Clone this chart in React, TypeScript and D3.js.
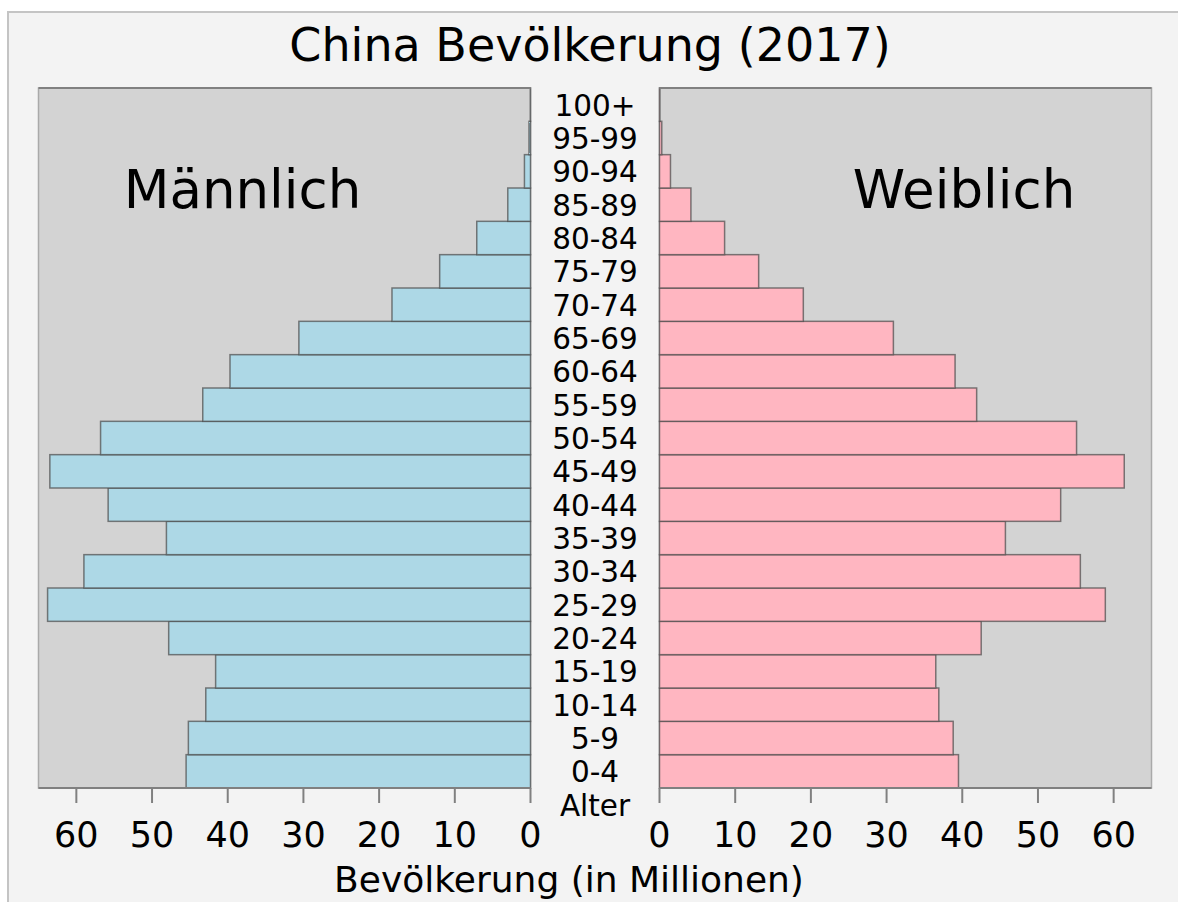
import React from "react";
import * as d3 from "d3";

const ageGroups = [
  "0-4", "5-9", "10-14", "15-19", "20-24", "25-29", "30-34", "35-39", "40-44", "45-49",
  "50-54", "55-59", "60-64", "65-69", "70-74", "75-79", "80-84", "85-89", "90-94", "95-99", "100+",
];
const male = [
  45.5, 45.2, 42.9, 41.6, 47.8, 63.8, 59.0, 48.1, 55.8, 63.5,
  56.8, 43.3, 39.7, 30.6, 18.3, 12.0, 7.1, 3.0, 0.8, 0.2, 0.02,
];
const female = [
  39.5, 38.8, 36.9, 36.5, 42.5, 58.9, 55.6, 45.7, 53.0, 61.4,
  55.1, 41.9, 39.05, 30.9, 19.0, 13.1, 8.6, 4.15, 1.45, 0.3, 0.05,
];
const ticks = [0, 10, 20, 30, 40, 50, 60];
const title = "China Bevölkerung (2017)";
const maleLabel = "Männlich";
const femaleLabel = "Weiblich";
const ageAxisLabel = "Alter";
const xAxisLabel = "Bevölkerung (in Millionen)";

const W = 1178;
const H = 902;
const FONT = "'DejaVu Sans', Verdana, sans-serif";

export default function App() {
  const top = 88;
  const bottom = 788;
  const xL = d3.scaleLinear().domain([0, 65]).range([530.5, 38.5]);
  const xR = d3.scaleLinear().domain([0, 65]).range([659.5, 1151.5]);
  const y = d3
    .scaleBand<string>()
    .domain([...ageGroups].reverse())
    .range([top, bottom])
    .padding(0);
  const bw = y.bandwidth();
  const midX = (xL(0) + xR(0)) / 2;

  return (
    <svg
      width={W}
      height={H}
      style={{ position: "absolute", left: 0, top: 0, background: "#ffffff" }}
      fontFamily={FONT}
    >
      <rect x={8} y={12} width={W} height={H} fill="#f3f3f3" stroke="#c4c4c4" strokeWidth={2} />
      <text x={590} y={61} textAnchor="middle" fontSize={46} fill="#000">
        {title}
      </text>

      {/* plot backgrounds */}
      <rect x={xL(65)} y={top} width={xL(0) - xL(65)} height={bottom - top} fill="#d3d3d3" stroke="#a9a9a9" strokeWidth={1.5} />
      <rect x={xR(0)} y={top} width={xR(65) - xR(0)} height={bottom - top} fill="#d3d3d3" stroke="#a9a9a9" strokeWidth={1.5} />

      <text x={242.5} y={208} textAnchor="middle" fontSize={53} fill="#000">{maleLabel}</text>
      <text x={964} y={208} textAnchor="middle" fontSize={53} fill="#000">{femaleLabel}</text>

      {/* bars */}
      {ageGroups.map((g, i) => (
        <g key={g}>
          <rect
            x={xL(male[i])}
            y={y(g)}
            width={xL(0) - xL(male[i])}
            height={bw}
            fill="#add8e6"
            stroke="#4a4a4a"
            strokeOpacity={0.7}
            strokeWidth={1.5}
          />
          <rect
            x={xR(0)}
            y={y(g)}
            width={xR(female[i]) - xR(0)}
            height={bw}
            fill="#ffb6c1"
            stroke="#4a4a4a"
            strokeOpacity={0.7}
            strokeWidth={1.5}
          />
          <text
            x={midX}
            y={(y(g) as number) + bw / 2 + 11}
            textAnchor="middle"
            fontSize={29.5}
            fill="#000"
          >
            {g}
          </text>
        </g>
      ))}

      {/* top borders */}
      <line x1={xL(65)} x2={xL(0)} y1={top} y2={top} stroke="#808080" strokeWidth={2} />
      <line x1={xR(0)} x2={xR(65)} y1={top} y2={top} stroke="#808080" strokeWidth={2} />

      {/* bottom axes */}
      <line x1={xL(65)} x2={xL(0)} y1={bottom} y2={bottom} stroke="#808080" strokeWidth={2} />
      <line x1={xR(0)} x2={xR(65)} y1={bottom} y2={bottom} stroke="#808080" strokeWidth={2} />
      {ticks.map((t) => (
        <g key={"t" + t}>
          <line x1={xL(t)} x2={xL(t)} y1={bottom} y2={bottom + 15} stroke="#808080" strokeWidth={2} />
          <line x1={xR(t)} x2={xR(t)} y1={bottom} y2={bottom + 15} stroke="#808080" strokeWidth={2} />
          <text x={xL(t)} y={847} textAnchor="middle" fontSize={35} fill="#000">{t}</text>
          <text x={xR(t)} y={847} textAnchor="middle" fontSize={35} fill="#000">{t}</text>
        </g>
      ))}

      <text x={midX} y={816} textAnchor="middle" fontSize={29.5} fill="#000">{ageAxisLabel}</text>
      <text x={569} y={892} textAnchor="middle" fontSize={36} fill="#000">{xAxisLabel}</text>
    </svg>
  );
}
